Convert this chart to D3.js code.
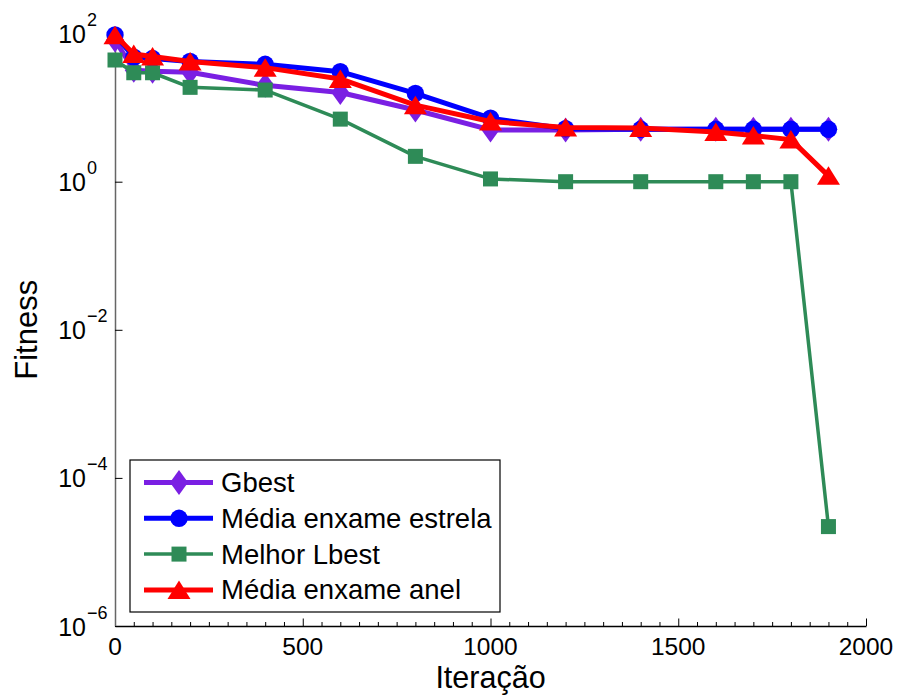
<!DOCTYPE html>
<html>
<head>
<meta charset="utf-8">
<script src="https://cdn.jsdelivr.net/npm/d3@7"></script>
<style>
  html, body { margin: 0; padding: 0; background: #fff; }
  svg text { font-family: "Liberation Sans", Arial, Helvetica, sans-serif; fill: #000; }
</style>
</head>
<body>
<svg id="chart" width="901" height="700"></svg>
<script>
// ---- data ----
const iterations = [0, 50, 100, 200, 400, 600, 800, 1000, 1200, 1400, 1600, 1700, 1800, 1900];
const gbest      = [82, 32, 31, 30, 20, 16, 9.3, 5.0, 5.0, 5.1, 5.1, 5.1, 5.1, 5.1];
const mediaEstrela = [96, 48, 46, 42, 38.5, 30.6, 15.6, 7.2, 5.2, 5.1, 5.1, 5.1, 5.1, 5.1];
const melhorLbest  = [44, 29.6, 29.6, 18.8, 17.3, 7.0, 2.2, 1.09, 1.0, 1.0, 1.0, 1.0, 1.0, 2.2e-5];
const mediaAnel    = [95, 53, 49, 42, 34.7, 24.4, 10.8, 6.5, 5.4, 5.3, 4.7, 4.2, 3.7, 1.2];
const seriesNames  = ["Gbest", "Média enxame estrela", "Melhor Lbest", "Média enxame anel"];
const xTicks = [0, 500, 1000, 1500, 2000];
const yTickExponents = [2, 0, -2, -4, -6];
const xLabel = "Iteração";
const yLabel = "Fitness";

const styles = [
  { color: "#7a1fe3", width: 5,   marker: "diamond" },
  { color: "#0000ff", width: 5,   marker: "circle" },
  { color: "#2e8b57", width: 3.5, marker: "square" },
  { color: "#ff0000", width: 5,   marker: "triangle" }
];
const seriesValues = [gbest, mediaEstrela, melhorLbest, mediaAnel];

const svg = d3.select("#chart");
const x = d3.scaleLinear().domain([0, 2000]).range([115, 866]);
const y = d3.scaleLog().domain([1e-6, 1e2]).range([626, 33.6]);

function drawMarker(g, type, cx, cy, color) {
  if (type === "circle") {
    g.append("circle").attr("cx", cx).attr("cy", cy).attr("r", 8.7).attr("fill", color);
  } else if (type === "square") {
    g.append("rect").attr("x", cx - 7.5).attr("y", cy - 7.5).attr("width", 15).attr("height", 15).attr("fill", color);
  } else if (type === "diamond") {
    g.append("path").attr("d", `M${cx},${cy-12.5}L${cx+9},${cy}L${cx},${cy+12.5}L${cx-9},${cy}Z`).attr("fill", color);
  } else if (type === "triangle") {
    g.append("path").attr("d", `M${cx},${cy-9.5}L${cx+11.5},${cy+9}L${cx-11.5},${cy+9}Z`).attr("fill", color);
  }
}

// ---- axes ----
const xAxis = d3.axisBottom(x)
  .tickValues(d3.range(0, 2001, 50))
  .tickSize(0)
  .tickFormat("");
const gx = svg.append("g").attr("transform", "translate(0,626)").call(xAxis);
gx.select(".domain").attr("stroke", "#000").attr("stroke-width", 1.5);
gx.selectAll(".tick line").remove();
gx.selectAll(".tick").append("line")
  .attr("y1", 0)
  .attr("y2", d => xTicks.includes(d) ? -7.5 : -4)
  .attr("stroke", "#000").attr("stroke-width", 1);
gx.selectAll(".tick text").remove();
xTicks.forEach(v => {
  svg.append("text").attr("x", x(v)).attr("y", 655)
    .attr("text-anchor", "middle").attr("font-size", 24.5).text(v);
});

const yAxis = d3.axisLeft(y)
  .tickValues(yTickExponents.map(e => Math.pow(10, e)))
  .tickSize(0).tickFormat("");
const gy = svg.append("g").attr("transform", "translate(115,0)").call(yAxis);
gy.select(".domain").attr("stroke", "#666").attr("stroke-width", 1.5);
gy.selectAll(".tick line").remove();
gy.selectAll(".tick").append("line").attr("x1", 0).attr("x2", 7.5).attr("stroke", "#000").attr("stroke-width", 1);
yTickExponents.forEach(e => {
  const yy = y(Math.pow(10, e));
  svg.append("text").attr("x", 86).attr("y", yy + 9.5)
    .attr("text-anchor", "end").attr("font-size", 25).text("10");
  svg.append("text").attr("x", 87).attr("y", yy - 7.5)
    .attr("text-anchor", "start").attr("font-size", 18).text(e < 0 ? "\u2212" + Math.abs(e) : String(e));
});

// axis labels
svg.append("text").attr("x", x(1000)).attr("y", 688)
  .attr("text-anchor", "middle").attr("font-size", 30.5).text(xLabel);
svg.append("text").attr("transform", `translate(36.5,${(y(1e-6)+y(1e2))/2}) rotate(-90)`)
  .attr("text-anchor", "middle").attr("font-size", 31).text(yLabel);

// ---- series ----
const line = d3.line().x(d => x(d[0])).y(d => y(d[1]));
seriesValues.forEach((vals, i) => {
  const st = styles[i];
  const pts = iterations.map((it, k) => [it, vals[k]]);
  const g = svg.append("g");
  g.append("path").attr("d", line(pts)).attr("fill", "none")
    .attr("stroke", st.color).attr("stroke-width", st.width).attr("stroke-linejoin", "round");
  pts.forEach(p => drawMarker(g, st.marker, x(p[0]), y(p[1]), st.color));
});

// ---- legend ----
const lg = svg.append("g");
lg.append("rect").attr("x", 130).attr("y", 460).attr("width", 370).attr("height", 152)
  .attr("fill", "#fff").attr("stroke", "#000").attr("stroke-width", 1.2);
seriesNames.forEach((name, i) => {
  const yy = 482.5 + i * 35.8;
  const st = styles[i];
  lg.append("line").attr("x1", 144).attr("x2", 213).attr("y1", yy).attr("y2", yy)
    .attr("stroke", st.color).attr("stroke-width", st.width);
  drawMarker(lg, st.marker, 179, yy, st.color);
  lg.append("text").attr("x", 221).attr("y", yy + 9.5).attr("font-size", 27.5).text(name);
});
</script>
</body>
</html>
